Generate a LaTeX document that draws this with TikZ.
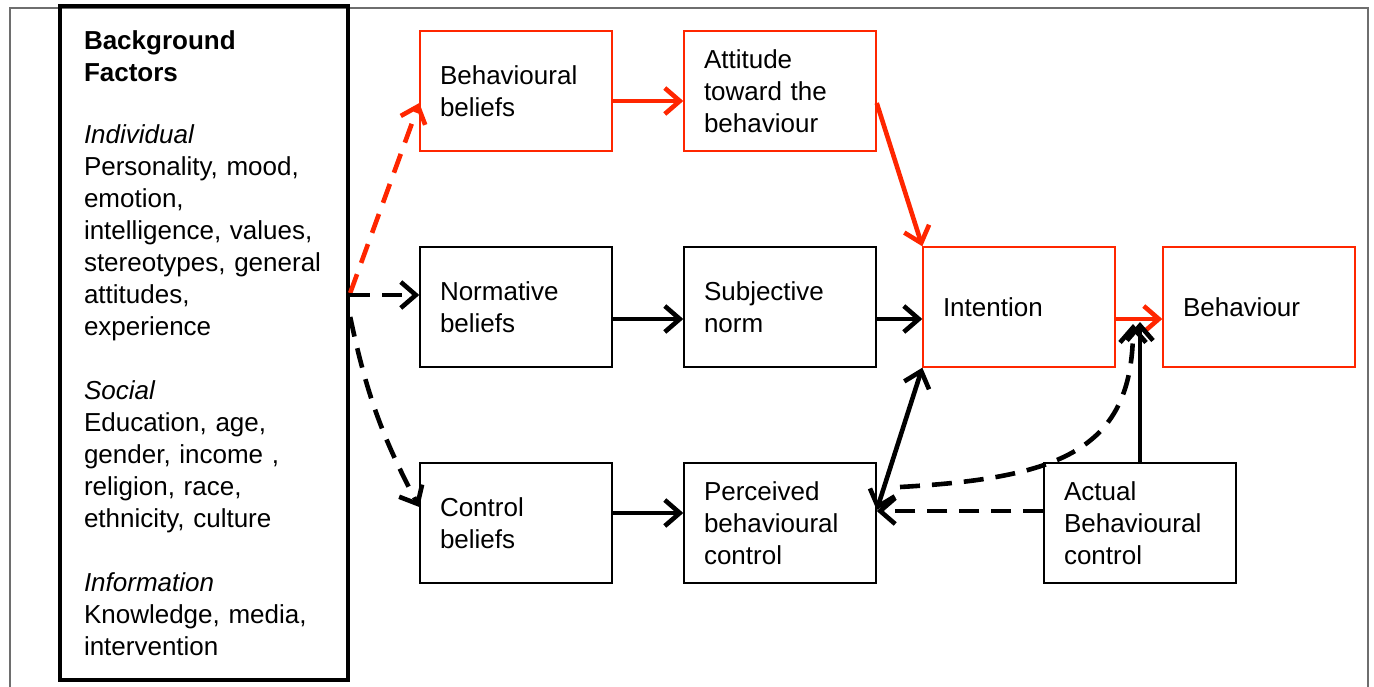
\documentclass[tikz,border=0pt]{standalone}
\usepackage{fontspec}
\setmainfont{Liberation Sans}
\usepackage{tikz}
\usetikzlibrary{arrows.meta,calc}
\definecolor{tpbred}{RGB}{255,38,0}
\definecolor{framegray}{RGB}{110,110,110}

\begin{document}
\begin{tikzpicture}[x=0.5pt,y=-0.5pt,
    every node/.style={font=\fontsize{13}{16}\selectfont},
    box/.style={draw=black, line width=0.7pt, minimum width=96pt, minimum height=60pt,
        text width=76pt, inner xsep=10pt, align=left},
    redbox/.style={box, draw=tpbred},
    barb/.style={Straight Barb[length=7.5pt,width=13pt]},
    link/.style={line width=2.3pt, -{Straight Barb[length=7.5pt,width=13pt]}},
    redlink/.style={link, tpbred},
    dlink/.style={link, dash pattern=on 10pt off 6pt},
    reddlink/.style={dlink, tpbred}]
    \useasboundingbox (0,0) rectangle (1374,686);

    % Outer frame
    \draw[framegray, line width=0.6pt] (10,8) rectangle (1368,700);

    % Background factors
    \node[draw, line width=2.2pt, minimum width=144pt, minimum height=337pt,
        text width=120pt, inner xsep=12pt, align=left] (bg) at (204,343)
        {\textbf{Background}\\ \textbf{Factors}\\[15pt]
         \textit{Individual}\\ Personality, mood,\\ emotion,\\ intelligence, values,\\
         stereotypes, general\\ attitudes,\\ experience\\[16pt]
         \textit{Social}\\ Education, age,\\ gender, income ,\\ religion, race,\\
         ethnicity, culture\\[16pt]
         \textit{Information}\\ Knowledge, media,\\ intervention};

    % Beliefs
    \node[redbox] (bb) at (516,91) {Behavioural\\ beliefs};
    \node[box] (nb) at (516,307) {Normative\\ beliefs};
    \node[box] (cb) at (516,523) {Control\\ beliefs};

    % Attitude, norm, control
    \node[redbox] (att) at (780,91) {Attitude\\ toward the\\ behaviour};
    \node[box] (sn) at (780,307) {Subjective\\ norm};
    \node[box] (pbc) at (780,523) {Perceived\\ behavioural\\ control};

    % Intention and behaviour
    \node[redbox] (int) at (1019,307) {Intention};
    \node[redbox] (beh) at (1259,307) {Behaviour};
    \node[box] (abc) at (1140,523) {Actual\\ Behavioural\\ control};

    % Free ends
    \coordinate (ctip) at (1140,322);
    \coordinate (dtip) at (1133,324);
    \coordinate (dstart) at (900,487);

    % Background factors to beliefs
    \draw[reddlink] ([yshift=25pt]bg.east) -- ([yshift=-6pt]bb.west);
    \draw[dlink] ([yshift=24pt]bg.east) -- ([yshift=6pt]nb.west);
    \draw[dlink] ([yshift=13pt]bg.east) to[bend right=8] ([yshift=8pt]cb.west);

    % Beliefs to determinants
    \draw[redlink] ([yshift=-5pt]bb.east) -- ([yshift=-5pt]att.west);
    \draw[link] ([yshift=-6pt]nb.east) -- ([yshift=-6pt]sn.west);
    \draw[link] ([yshift=5pt]cb.east) -- ([yshift=5pt]pbc.west);

    % Determinants to intention
    \draw[redlink] ([yshift=-6pt]att.east) -- (int.north west);
    \draw[link] ([yshift=-6pt]sn.east) -- ([yshift=-6pt]int.west);
    \draw[link, {Straight Barb[length=7.5pt,width=13pt]}-{Straight Barb[length=7.5pt,width=13pt]}]
        ([yshift=6.5pt]pbc.east) -- (int.south west);

    % Intention to behaviour
    \draw[redlink] ([yshift=-6pt]int.east) -- ([yshift=-6pt]beh.west);

    % Actual control
    \draw[link] (abc.north) -- (ctip);
    \draw[dlink] ([yshift=6pt]abc.west) -- ([yshift=6pt]pbc.east);
    \draw[dlink] (dstart) .. controls (1060,478) and (1133,450) .. (dtip);
\end{tikzpicture}
\end{document}
